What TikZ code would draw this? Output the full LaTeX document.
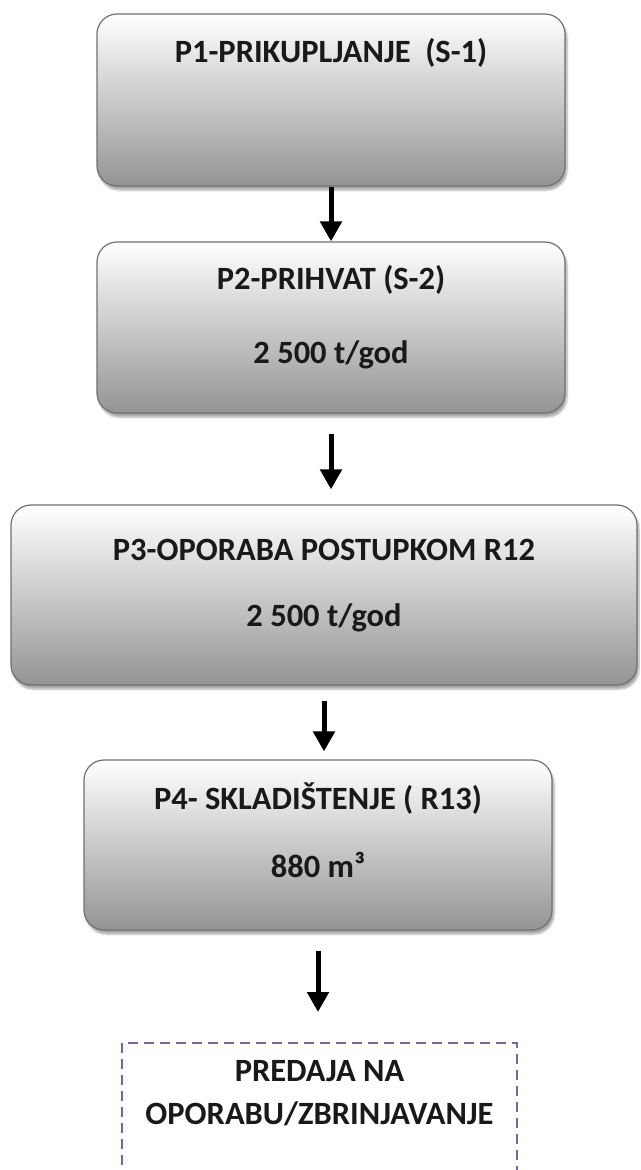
\documentclass[tikz,border=0pt]{standalone}
\usepackage{fontspec}
\setmainfont{Carlito}
\usetikzlibrary{arrows.meta, shadows.blur, positioning}
\definecolor{boxedge}{RGB}{112,112,112}
\definecolor{predajapurple}{RGB}{128,100,162}

\tikzset{
  stepbox/.style={draw=boxedge, line width=1.2pt, rounded corners=20pt,
    top color=white, middle color=black!10, bottom color=black!42,
    blur shadow={shadow xshift=2pt, shadow yshift=-4pt, shadow opacity=35, shadow blur steps=6},
    minimum width=468pt, inner sep=0pt},
  boxtext/.style={font=\bfseries\fontsize{32.5}{38}\selectfont, inner sep=0pt, anchor=base, text=black!90},
  flowarrow/.style={line width=5pt, -{Triangle[width=21pt,length=20pt]}},
}

\begin{document}
\begin{tikzpicture}
  \useasboundingbox (0,0) rectangle (640pt,-1170pt);
  \clip (0,0) rectangle (640pt,-1170pt);

  % process steps
  \node[stepbox, minimum height=172pt] (p1) at (331pt,-100pt) {};
  \node[boxtext] (p1title) at ([yshift=-49pt]p1.north) {P1-PRIKUPLJANJE\ \ (S-1)};

  \node[stepbox, minimum height=171pt] (p2) at (331pt,-327.5pt) {};
  \node[boxtext] (p2title) at ([yshift=-48pt]p2.north) {P2-PRIHVAT\ (S-2)};
  \node[boxtext] (p2amount) at ([yshift=-122pt]p2.north) {2 500 t/god};

  \node[stepbox, minimum width=626pt, minimum height=180pt] (p3) at (324pt,-595pt) {};
  \node[boxtext] (p3title) at ([yshift=-56pt]p3.north) {P3-OPORABA POSTUPKOM R12};
  \node[boxtext] (p3amount) at ([yshift=-122pt]p3.north) {2 500 t/god};

  \node[stepbox, minimum height=170pt] (p4) at (318pt,-845pt) {};
  \node[boxtext] (p4title) at ([yshift=-50pt]p4.north) {P4- SKLADIŠTENJE ( R13)};
  \node[boxtext] (p4amount) at ([yshift=-118pt]p4.north) {880 m³};

  % final hand-over (cut at the bottom)
  \node[draw=predajapurple, line width=2pt, dash pattern=on 10pt off 6pt,
        minimum width=395pt, minimum height=170pt] (predaja) at (319.5pt,-1128pt) {};
  \node[boxtext] (predajaa) at ([yshift=-39pt]predaja.north) {PREDAJA NA};
  \node[boxtext] (predajab) at ([yshift=-82pt]predaja.north) {OPORABU/ZBRINJAVANJE};

  % arrows
  \draw[flowarrow] (p1) -- (p2);
  \draw[flowarrow, shorten <=20pt, shorten >=15pt] (p2.south) -- (p2.south |- p3.north);
  \draw[flowarrow, shorten <=15pt, shorten >=8pt] (p3.south) -- (p3.south |- p4.north);
  \draw[flowarrow, shorten <=20pt, shorten >=30pt] (p4.south) -- (p4.south |- predaja.north);
\end{tikzpicture}
\end{document}
